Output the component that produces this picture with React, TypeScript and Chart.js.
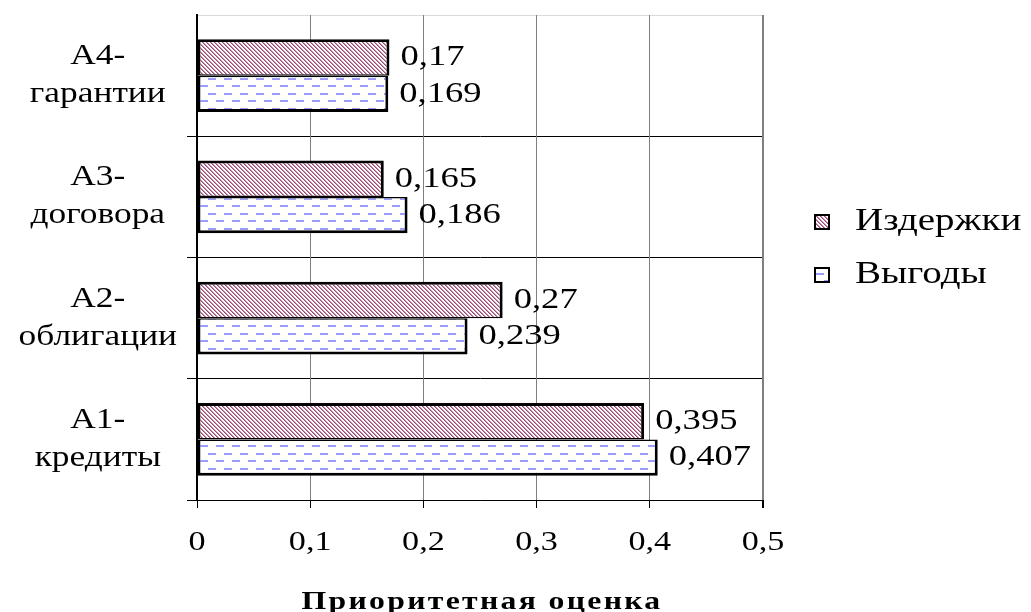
import React, { useEffect, useRef } from 'react';
import { Chart, registerables } from 'chart.js';

Chart.register(...registerables);

// ---- data ----
const categories: string[][] = [
  ['A4-', 'гарантии'],
  ['A3-', 'договора'],
  ['A2-', 'облигации'],
  ['A1-', 'кредиты'],
];
const seriesNames = ['Издержки', 'Выгоды'];
const costs = [0.17, 0.165, 0.27, 0.395];
const benefits = [0.169, 0.186, 0.239, 0.407];
const xMin = 0;
const xMax = 0.5;
const xStep = 0.1;
const axisTitle = 'Приоритетная оценка';

// ---- styling ----
const FONT = '"Liberation Serif", "Times New Roman", serif';
const SX = 1.22; // horizontal text stretch as in the original rendering

const fmt = (v: number) => (v === 0 ? '0' : String(Math.round(v * 1000) / 1000).replace('.', ','));

function stretchText(ctx: any) {
  if (ctx.__stretched) return;
  ctx.__stretched = true;
  const fill = ctx.fillText.bind(ctx);
  const measure = ctx.measureText.bind(ctx);
  ctx.fillText = (text: string, x: number, y: number) => {
    ctx.save();
    ctx.translate(x, y);
    ctx.scale(SX, 1);
    fill(text, 0, 0);
    ctx.restore();
  };
  ctx.measureText = (text: string) => {
    const m = measure(text);
    return {
      width: m.width * SX,
      actualBoundingBoxAscent: m.actualBoundingBoxAscent,
      actualBoundingBoxDescent: m.actualBoundingBoxDescent,
      actualBoundingBoxLeft: m.actualBoundingBoxLeft * SX,
      actualBoundingBoxRight: m.actualBoundingBoxRight * SX,
    };
  };
}

function makeHatch(ctx: CanvasRenderingContext2D) {
  const c = document.createElement('canvas');
  c.width = 8;
  c.height = 8;
  const g = c.getContext('2d')!;
  g.fillStyle = '#ffffff';
  g.fillRect(0, 0, 8, 8);
  for (let y = 0; y < 8; y++) {
    for (let x = 0; x < 8; x++) {
      const k = (((x - y) % 4) + 4) % 4;
      if (k === 0) {
        g.fillStyle = '#9c4a75';
        g.fillRect(x, y, 1, 1);
      } else if (k === 1) {
        g.fillStyle = '#c690ad';
        g.fillRect(x, y, 1, 1);
      }
    }
  }
  return ctx.createPattern(c, 'repeat')!;
}

function makeDash(ctx: CanvasRenderingContext2D) {
  const c = document.createElement('canvas');
  c.width = 16;
  c.height = 15;
  const g = c.getContext('2d')!;
  g.fillStyle = '#ffffff';
  g.fillRect(0, 0, 16, 15);
  g.fillStyle = '#9c9cff';
  g.fillRect(0, 3, 8, 2);
  g.fillRect(8, 10, 8, 2);
  return ctx.createPattern(c, 'repeat')!;
}

const valueLabels = {
  id: 'valueLabels',
  afterDatasetsDraw(chart: any) {
    const ctx = chart.ctx;
    ctx.save();
    ctx.font = `30px ${FONT}`;
    ctx.fillStyle = '#000';
    ctx.textAlign = 'left';
    ctx.textBaseline = 'middle';
    chart.data.datasets.forEach((ds: any, i: number) => {
      const meta = chart.getDatasetMeta(i);
      meta.data.forEach((bar: any, j: number) => {
        ctx.fillText(fmt(ds.data[j]), bar.x + 11, bar.y);
      });
    });
    ctx.restore();
  },
};

const axisTitlePlugin = {
  id: 'axisTitle',
  afterDraw(chart: any) {
    const ctx = chart.ctx;
    const area = chart.chartArea;
    ctx.save();
    ctx.font = `bold 26px ${FONT}`;
    (ctx as any).letterSpacing = '1.9px';
    ctx.fillStyle = '#000';
    ctx.textAlign = 'center';
    ctx.textBaseline = 'alphabetic';
    ctx.fillText(axisTitle, (area.left + area.right) / 2 + 2, area.bottom + 109);
    ctx.restore();
  },
};

const sideLegend = {
  id: 'sideLegend',
  afterDraw(chart: any) {
    const ctx = chart.ctx;
    const area = chart.chartArea;
    const mid = (area.top + area.bottom) / 2;
    const ys = [mid - 35.5, mid + 17.5];
    const bx = area.right + 52;
    ctx.save();
    chart.data.datasets.forEach((ds: any, i: number) => {
      const y = ys[i];
      ctx.fillStyle = ds.backgroundColor;
      ctx.fillRect(bx, y - 7, 14, 14);
      ctx.strokeStyle = '#000';
      ctx.lineWidth = 2;
      ctx.strokeRect(bx, y - 7, 14, 14);
      ctx.fillStyle = '#000';
      ctx.font = `32px ${FONT}`;
      ctx.textAlign = 'left';
      ctx.textBaseline = 'middle';
      ctx.fillText(ds.label, bx + 40, y);
    });
    ctx.restore();
  },
};

export default function App() {
  const ref = useRef<HTMLCanvasElement>(null);
  useEffect(() => {
    const canvas = ref.current!;
    const ctx = canvas.getContext('2d')!;
    stretchText(ctx);
    const hatch = makeHatch(ctx);
    const dash = makeDash(ctx);
    Chart.defaults.font.family = FONT;
    Chart.defaults.color = '#000';
    const chart = new Chart(canvas, {
      type: 'bar',
      data: {
        labels: categories as any,
        datasets: [
          {
            label: seriesNames[0],
            data: costs,
            backgroundColor: hatch as any,
            borderColor: '#000',
            borderWidth: { top: 3, left: 3, right: 3, bottom: 1.5 } as any,
            borderSkipped: false,
            categoryPercentage: 0.6,
            barPercentage: 1,
          },
          {
            label: seriesNames[1],
            data: benefits,
            backgroundColor: dash as any,
            borderColor: '#000',
            borderWidth: { top: 1.5, left: 3, right: 3, bottom: 3 } as any,
            borderSkipped: false,
            categoryPercentage: 0.6,
            barPercentage: 1,
          },
        ],
      },
      options: {
        indexAxis: 'y',
        animation: false,
        responsive: true,
        maintainAspectRatio: false,
        events: [],
        layout: { padding: { top: 15, right: 268, bottom: 0, left: 0 } },
        plugins: { legend: { display: false }, tooltip: { enabled: false } },
        scales: {
          y: {
            type: 'category',
            ticks: {
              font: { size: 29, lineHeight: 1.31 },
              color: '#000',
              crossAlign: 'center',
              padding: 10,
            },
            grid: {
              offset: true,
              color: (c: any) => (c.index === 0 ? '#d9d9d9' : '#000'),
              tickColor: (c: any) => (c.index === 0 ? 'rgba(0,0,0,0)' : '#000'),
              tickLength: 10,
              lineWidth: 1,
            },
            border: { color: '#000', width: 2 },
            afterFit: (s: any) => {
              s.width = 197;
              s.paddingTop = 0;
              s.paddingBottom = 0;
            },
          },
          x: {
            type: 'linear',
            min: xMin,
            max: xMax,
            ticks: {
              stepSize: xStep,
              callback: (v: any) => fmt(Number(v)),
              font: { size: 28, lineHeight: 1.2 },
              color: '#000',
              padding: 18,
            },
            grid: {
              color: (c: any) => (c.index === 0 ? 'rgba(0,0,0,0)' : '#808080'),
              tickColor: '#000',
              tickLength: 8,
              lineWidth: (c: any) => (c.index === 5 ? 2 : 1),
            },
            border: { color: '#000', width: 1 },
            title: { display: false, text: axisTitle },
            afterFit: (s: any) => {
              s.height = 112;
            },
          },
        },
      } as any,
      plugins: [valueLabels, axisTitlePlugin, sideLegend],
    });
    return () => chart.destroy();
  }, []);
  return (
    <div style={{ position: 'absolute', left: 0, top: 0, width: 1031, height: 612, background: '#fff' }}>
      <canvas ref={ref} />
    </div>
  );
}
